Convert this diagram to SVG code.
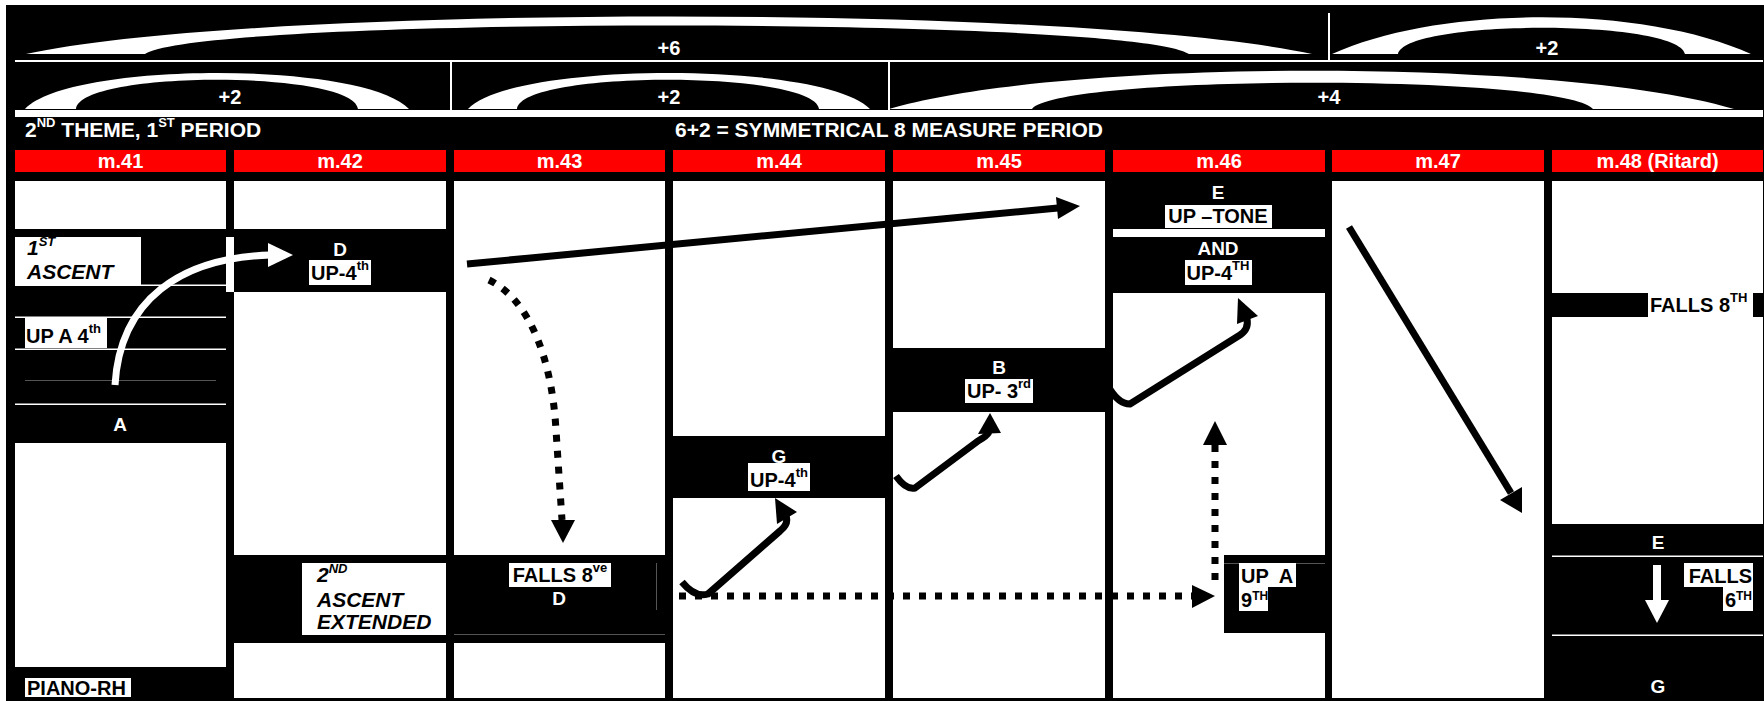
<svg xmlns="http://www.w3.org/2000/svg" width="1764" height="701" viewBox="0 0 1764 701">
<style>
text{font-family:"Liberation Sans",Arial,sans-serif;font-weight:bold}
.w{fill:#fff}
.k{fill:#000}
.r{fill:#f00}
.hw{fill:#fff;font-size:21px}
.tm{fill:#fff;font-size:20px;text-anchor:middle}
.tw{fill:#fff;font-size:19px;text-anchor:middle}
.tb{fill:#000;font-size:20px}
.tc{fill:#000;font-size:20px;text-anchor:middle}
.te{fill:#000;font-size:20px;text-anchor:end}
.ti{fill:#000;font-size:21px;font-style:italic}
.sup{font-size:13px}
.sup2{font-size:12px}
.gl{stroke:#555;stroke-width:1;fill:none}
.solid{fill:none;stroke:#000;stroke-width:7;stroke-linejoin:round}
.dot{fill:none;stroke:#000;stroke-width:7;stroke-dasharray:7 9}
</style>
<rect x="0" y="0" width="1764" height="701" fill="#fff"/>
<rect x="6" y="5" width="1758" height="696" fill="#000"/>

<g id="phrase-arcs">
  <path class="w" d="M26,54 C260,4 1078,4 1312,54 L1189,54 C1134,16 200,16 145,54 Z"/>
  <path class="w" d="M1332,54 C1440,5 1643,5 1751,54 L1685,54 C1678,19 1405,19 1398,54 Z"/>
  <rect class="w" x="1328" y="13" width="2" height="47"/>
  <rect class="w" x="15" y="60" width="1748" height="2"/>
  <path class="w" d="M25,109 C70,61 364,61 409,109 L358,109 C354,70 80,70 76,109 Z"/>
  <path class="w" d="M468,109 C513,61 825,61 870,109 L819,109 C815,70 521,70 517,109 Z"/>
  <path class="w" d="M889,109 C1060,58 1563,58 1734,109 L1593,109 C1565,74 1060,74 1032,109 Z"/>
  <rect class="w" x="450" y="62" width="2" height="48"/>
  <rect class="w" x="888" y="62" width="2" height="48"/>
  <rect class="w" x="15" y="110" width="1748" height="7"/>
  <text class="tm" x="669" y="55">+6</text>
  <text class="tm" x="1547" y="55">+2</text>
  <text class="tm" x="230" y="104">+2</text>
  <text class="tm" x="669" y="104">+2</text>
  <text class="tm" x="1329" y="104">+4</text>
</g>

<g id="titles">
  <text class="hw" x="25" y="137">2<tspan class="sup" dy="-10">ND</tspan><tspan dy="10"> THEME, 1</tspan><tspan class="sup" dy="-10">ST</tspan><tspan dy="10"> PERIOD</tspan></text>
  <text class="hw" x="889" y="137" text-anchor="middle">6+2 = SYMMETRICAL 8 MEASURE PERIOD</text>
</g>

<g id="m41">
  <rect class="r" x="15" y="150" width="211" height="22"/>
  <text class="tm" x="120.5" y="168">m.41</text>
  <rect class="w" x="15" y="181" width="211" height="517"/>
  <rect class="k" x="15" y="229" width="211" height="214"/>
  <rect class="w" x="15" y="237" width="126" height="48"/>
  <rect class="w" x="15" y="284.5" width="211" height="1.5"/>
  <rect class="w" x="15" y="316.5" width="211" height="1.5"/>
  <rect class="w" x="15" y="348.5" width="211" height="1.5"/>
  <rect class="w" x="15" y="403.5" width="211" height="1.5"/>
  <line class="gl" x1="25" y1="380.5" x2="216" y2="380.5"/>
  <rect class="w" x="25" y="318" width="82" height="30"/>
  <rect class="k" x="15" y="667" width="211" height="31"/>
  <rect class="w" x="25" y="678" width="106" height="19"/>
  <text class="ti" x="27" y="255">1<tspan class="sup" dy="-9">ST</tspan></text>
  <text class="ti" x="27" y="279">ASCENT</text>
  <text class="tb" x="26" y="343">UP A 4<tspan class="sup" dy="-10">th</tspan></text>
  <text class="tw" x="120" y="431">A</text>
  <text class="tb" x="27" y="695" font-size="21">PIANO-RH</text>
</g>

<g id="m42">
  <rect class="r" x="234" y="150" width="212" height="22"/>
  <text class="tm" x="340" y="168">m.42</text>
  <rect class="w" x="234" y="181" width="212" height="517"/>
  <rect class="k" x="226" y="229" width="220" height="63"/>
  <rect class="w" x="226" y="237" width="8" height="55"/>
  <rect class="w" x="309" y="260" width="62" height="25"/>
  <text class="tw" x="340" y="256">D</text>
  <text class="tc" x="340" y="280">UP-4<tspan class="sup" dy="-10">th</tspan></text>
</g>

<g id="m43">
  <rect class="r" x="454" y="150" width="211" height="22"/>
  <text class="tm" x="559.5" y="168">m.43</text>
  <rect class="w" x="454" y="181" width="211" height="517"/>
</g>

<g id="ascent2">
  <rect class="k" x="234" y="555" width="439" height="88"/>
  <rect class="w" x="302" y="563" width="144" height="72"/>
  <text class="ti" x="317" y="582">2<tspan class="sup" dy="-9">ND</tspan></text>
  <text class="ti" x="317" y="607">ASCENT</text>
  <text class="ti" x="317" y="629">EXTENDED</text>
  <line class="gl" x1="454" y1="634.5" x2="665" y2="634.5"/>
  <line class="gl" x1="656.5" y1="563" x2="656.5" y2="610"/>
  <rect class="w" x="509" y="563" width="102" height="24"/>
  <text class="tc" x="560" y="582">FALLS 8<tspan class="sup" dy="-10">ve</tspan></text>
  <text class="tw" x="559" y="605">D</text>
</g>

<g id="m44">
  <rect class="r" x="673" y="150" width="212" height="22"/>
  <text class="tm" x="779" y="168">m.44</text>
  <rect class="w" x="673" y="181" width="212" height="517"/>
  <rect class="k" x="673" y="436" width="212" height="62"/>
  <rect class="w" x="748" y="463" width="62" height="28"/>
  <text class="tw" x="779" y="463">G</text>
  <text class="tc" x="779" y="487">UP-4<tspan class="sup" dy="-10">th</tspan></text>
</g>

<g id="m45">
  <rect class="r" x="893" y="150" width="212" height="22"/>
  <text class="tm" x="999" y="168">m.45</text>
  <rect class="w" x="893" y="181" width="212" height="517"/>
  <rect class="k" x="893" y="348" width="212" height="64"/>
  <rect class="w" x="965" y="379" width="68" height="24"/>
  <text class="tw" x="999" y="374">B</text>
  <text class="tc" x="999" y="398">UP- 3<tspan class="sup" dy="-10">rd</tspan></text>
</g>

<g id="m46">
  <rect class="r" x="1113" y="150" width="212" height="22"/>
  <text class="tm" x="1219" y="168">m.46</text>
  <rect class="w" x="1113" y="181" width="212" height="517"/>
  <rect class="k" x="1113" y="172" width="212" height="57"/>
  <rect class="k" x="1113" y="237" width="212" height="56"/>
  <rect class="w" x="1165" y="205" width="107" height="23"/>
  <rect class="w" x="1185" y="260" width="67" height="25"/>
  <text class="tw" x="1218" y="199">E</text>
  <text class="tc" x="1218" y="223">UP –TONE</text>
  <text class="tw" x="1218" y="255">AND</text>
  <text class="tc" x="1218" y="280">UP-4<tspan class="sup" dy="-10">TH</tspan></text>
  <rect class="k" x="1224" y="555" width="101" height="78"/>
  <line class="gl" x1="1224" y1="563.5" x2="1325" y2="563.5"/>
  <rect class="w" x="1239" y="563" width="57" height="24"/>
  <rect class="w" x="1239" y="587" width="29" height="24"/>
  <text class="tb" x="1241" y="583" xml:space="preserve">UP  A</text>
  <text class="tb" x="1241" y="607">9<tspan class="sup2" dy="-7">TH</tspan></text>
</g>

<g id="m47">
  <rect class="r" x="1332" y="150" width="212" height="22"/>
  <text class="tm" x="1438" y="168">m.47</text>
  <rect class="w" x="1332" y="181" width="212" height="517"/>
</g>

<g id="m48">
  <rect class="r" x="1552" y="150" width="211" height="22"/>
  <text class="tm" x="1657.5" y="168">m.48 (Ritard)</text>
  <rect class="w" x="1552" y="181" width="211" height="517"/>
  <rect class="k" x="1552" y="293" width="211" height="24"/>
  <rect class="w" x="1648" y="293" width="105" height="24"/>
  <text class="tb" x="1650" y="312">FALLS 8<tspan class="sup" dy="-10">TH</tspan></text>
  <rect class="k" x="1552" y="524" width="211" height="174"/>
  <rect class="w" x="1552" y="555.5" width="211" height="1.5"/>
  <rect class="w" x="1552" y="634.5" width="211" height="1.5"/>
  <text class="tw" x="1658" y="549">E</text>
  <rect class="w" x="1653" y="565" width="8" height="36"/>
  <polygon class="w" points="1645,600 1669,600 1657,623"/>
  <rect class="w" x="1684" y="563" width="69" height="24"/>
  <rect class="w" x="1723" y="587" width="30" height="24"/>
  <text class="te" x="1752" y="583">FALLS</text>
  <text class="te" x="1752" y="607">6<tspan class="sup2" dy="-7">TH</tspan></text>
  <text class="tw" x="1658" y="693">G</text>
</g>

<g id="connectors">
  <path d="M115,385 C120,300 180,258 270,255" fill="none" stroke="#fff" stroke-width="7"/>
  <polygon class="w" points="293,255 268,243 268,267"/>
  <line class="solid" x1="467" y1="264" x2="1058" y2="208"/>
  <polygon class="k" points="1080,206 1058,219 1056,197"/>
  <path class="dot" d="M489,280 C530,300 552,360 556,430 L562,520"/>
  <polygon class="k" points="563,543 551,520 575,520"/>
  <line class="dot" x1="679" y1="596" x2="1194" y2="596"/>
  <polygon class="k" points="1192,585 1215,596 1192,608"/>
  <line class="dot" x1="1215" y1="580" x2="1215" y2="445"/>
  <polygon class="k" points="1203,445 1215,421 1227,445"/>
  <path class="solid" d="M682,582 Q695,598 708,594 L780,531 Q789,524 786,516"/>
  <polygon class="k" points="775,498 797,512 777,524"/>
  <path class="solid" d="M896,476 Q906,490 915,488 L978,441 Q987,436 989,432"/>
  <polygon class="k" points="978,434 990,413 1001,433"/>
  <path class="solid" d="M1108,386 Q1118,404 1130,404 L1240,335 Q1249,329 1247,319"/>
  <polygon class="k" points="1238,298 1258,316 1237,324"/>
  <line class="solid" x1="1349" y1="227" x2="1511" y2="493"/>
  <polygon class="k" points="1522,513 1500,500 1522,487"/>
</g>
</svg>
